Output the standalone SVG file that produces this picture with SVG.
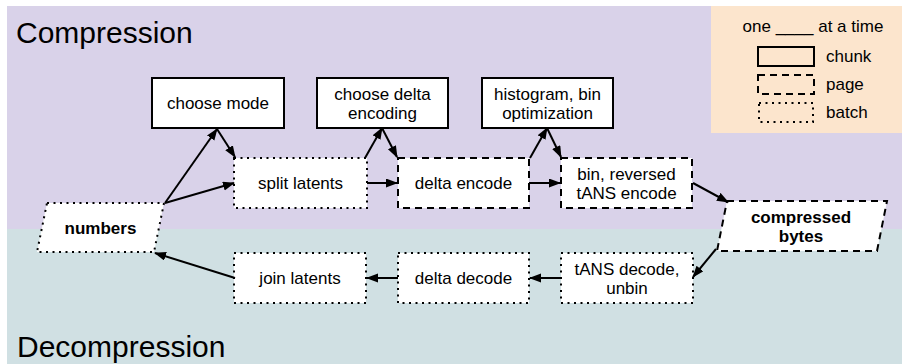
<svg xmlns="http://www.w3.org/2000/svg" width="902" height="364" viewBox="0 0 902 364">
<defs>
<style>
text{font-family:"Liberation Sans",Arial,sans-serif;font-size:17px;fill:#000}
.title{font-size:30px}
.b{font-weight:bold}
.c{text-anchor:middle}
.n{fill:#fff;stroke:#000;stroke-width:2}
.dash{stroke-dasharray:7,5}
.dot{stroke-dasharray:2,4.5}
.lg{fill:none;stroke:#000;stroke-width:2}
.e{fill:none;stroke:#000;stroke-width:2}
</style>
<marker id="ah" markerUnits="userSpaceOnUse" markerWidth="12" markerHeight="10" refX="11" refY="4.5" orient="auto">
<path d="M0,0 L12,4.5 L0,9 Z" fill="#000"/>
</marker>
</defs>
<rect id="bg-compression" x="7" y="6" width="895" height="223" fill="#d9d2e9"/>
<rect id="bg-decompression" x="7" y="229" width="895" height="135" fill="#d0e0e3"/>
<text class="title" x="16" y="43">Compression</text>
<text class="title" x="17" y="357">Decompression</text>

<g id="legend">
<rect x="711" y="6" width="191" height="127" fill="#fce5cd"/>
<text class="c" x="813" y="32">one ____ at a time</text>
<rect class="lg" x="758" y="47" width="56" height="19"/>
<text x="826" y="62">chunk</text>
<rect class="lg dash" x="758" y="75" width="56" height="19"/>
<text x="826" y="90">page</text>
<rect class="lg dot" x="759" y="103" width="54" height="19"/>
<text x="826" y="118">batch</text>
</g>

<g id="choose-mode"><rect class="n" x="152" y="78" width="132" height="50"/><text class="c" x="218" y="109">choose mode</text></g>
<g id="choose-delta"><rect class="n" x="317" y="78" width="131" height="50"/><text class="c" x="382.5" y="100">choose delta</text><text class="c" x="382.5" y="119">encoding</text></g>
<g id="histogram"><rect class="n" x="482" y="78" width="131" height="50"/><text class="c" x="547.5" y="100">histogram, bin</text><text class="c" x="547.5" y="119">optimization</text></g>

<g id="split-latents"><rect class="n dot" x="234" y="158" width="133" height="50"/><text class="c" x="300.5" y="189">split latents</text></g>
<g id="delta-encode"><rect class="n dash" x="398" y="158" width="131" height="50"/><text class="c" x="463.5" y="189">delta encode</text></g>
<g id="bin-tans-encode"><rect class="n dash" x="561" y="158" width="131" height="50"/><text class="c" x="626.5" y="180">bin, reversed</text><text class="c" x="626.5" y="199">tANS encode</text></g>

<g id="numbers"><polygon class="n dot" points="47,203 164,203 154,252 37,252"/><text class="c b" x="100.5" y="234">numbers</text></g>
<g id="compressed-bytes"><polygon class="n dash" points="727,201 887,201 877,251 717,251"/><text class="c b" x="801" y="223">compressed</text><text class="c b" x="801" y="242">bytes</text></g>

<g id="join-latents"><rect class="n dot" x="234" y="253" width="132" height="50"/><text class="c" x="300" y="284">join latents</text></g>
<g id="delta-decode"><rect class="n dot" x="398" y="253" width="131" height="50"/><text class="c" x="463.5" y="284">delta decode</text></g>
<g id="tans-decode"><rect class="n dot" x="561" y="253" width="132" height="50"/><text class="c" x="627" y="275">tANS decode,</text><text class="c" x="627" y="294">unbin</text></g>

<g id="connectors">
<line class="e" x1="165" y1="203" x2="217" y2="129" marker-end="url(#ah)"/>
<line class="e" x1="217" y1="129" x2="235" y2="157" marker-end="url(#ah)"/>
<line class="e" x1="165" y1="203" x2="234" y2="183" marker-end="url(#ah)"/>
<line class="e" x1="365" y1="158" x2="382" y2="128" marker-end="url(#ah)"/>
<line class="e" x1="382" y1="128" x2="397" y2="157" marker-end="url(#ah)"/>
<line class="e" x1="367" y1="183" x2="397" y2="183" marker-end="url(#ah)"/>
<line class="e" x1="530" y1="158" x2="547" y2="128" marker-end="url(#ah)"/>
<line class="e" x1="547" y1="128" x2="561" y2="157" marker-end="url(#ah)"/>
<line class="e" x1="529" y1="183" x2="560" y2="183" marker-end="url(#ah)"/>
<line class="e" x1="693" y1="183" x2="728" y2="202" marker-end="url(#ah)"/>
<line class="e" x1="716" y1="249" x2="693" y2="277" marker-end="url(#ah)"/>
<line class="e" x1="561" y1="278" x2="530" y2="278" marker-end="url(#ah)"/>
<line class="e" x1="398" y1="278" x2="367" y2="278" marker-end="url(#ah)"/>
<line class="e" x1="235" y1="278" x2="155" y2="253" marker-end="url(#ah)"/>
</g>
</svg>
